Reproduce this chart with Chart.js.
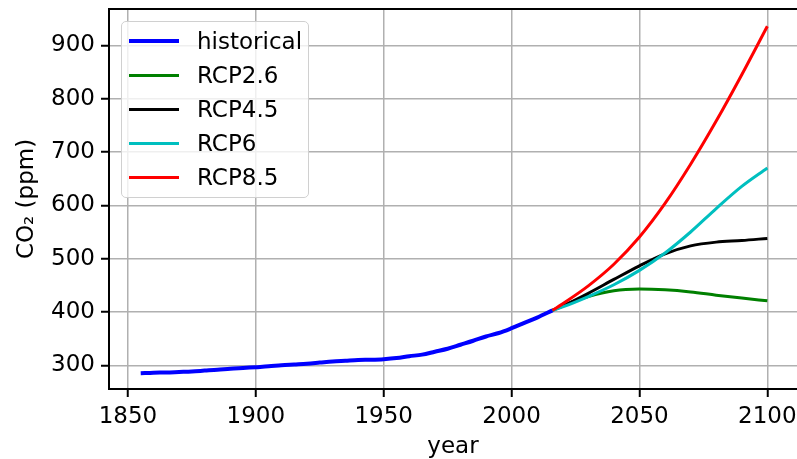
<!DOCTYPE html>
<html>
<head>
<meta charset="utf-8">
<script src="https://cdn.jsdelivr.net/npm/chart.js@4.4.1/dist/chart.umd.min.js"></script>
<style>
  body { margin: 0; background: #fff; }
  #wrap { position: relative; width: 797px; height: 459px; }
  #legend {
    position: absolute; left: 121px; top: 21px; width: 186px; height: 175px;
    border: 1.5px solid #d0d0d0; border-radius: 5px; background: rgba(255,255,255,0.8);
    font-family: "DejaVu Sans", sans-serif; font-size: 23px; color: #000;
  }
  .row { position: absolute; left: 0; height: 34px; }
  .row span.ln { position: absolute; left: 7px; width: 50px; top: 0; }
  .row span.tx { position: absolute; left: 75px; top: 0; line-height: 34px; white-space: nowrap; }
</style>
</head>
<body>
<div id="wrap">
  <canvas id="co2" width="797" height="459"></canvas>
  <div id="legend"></div>
</div>
<script>
//data
var histYears = [1855,1860,1865,1870,1875,1880,1885,1890,1895,1900,1905,1910,1915,1920,1925,1930,1935,1940,1945,1950,1955,1960,1965,1970,1975,1980,1985,1990,1995,2000,2005,2010,2016];
var histCO2 = [285,286,286.5,287.5,288.5,290,291.5,293.5,295,296.5,298,300,301.5,303,305,307,308.5,310,310.5,311.5,313.5,317,320,325.5,331,338.5,346,354,360.5,369.5,379.5,389.5,403];

var rcpYears = [2016,2020,2030,2040,2050,2060,2070,2080,2090,2100];
var rcp26 = [403,412,429,440,443,441.5,437.5,431.5,426,421];
var rcp45 = [403,411,435,461,486.5,509,524,531,534,538];
var rcp60 = [403,409.5,429,451,478,510.5,550,594,635.5,670];
var rcp85 = [403,415.5,449,489.5,540.5,603.5,677,758,845,936];

var xTicks = [1850,1900,1950,2000,2050,2100];
var yTicks = [300,400,500,600,700,800,900];

function pts(xs, ys){
    return xs.map(function(x, i){ return {x: x, y: ys[i]}; });
}

var series = [
    {label: 'historical', xs: histYears, ys: histCO2, color: '#0000ff', width: 4},
    {label: 'RCP2.6', xs: rcpYears, ys: rcp26, color: '#008000', width: 3},
    {label: 'RCP4.5', xs: rcpYears, ys: rcp45, color: '#000000', width: 3},
    {label: 'RCP6', xs: rcpYears, ys: rcp60, color: '#00bfbf', width: 3},
    {label: 'RCP8.5', xs: rcpYears, ys: rcp85, color: '#ff0000', width: 3}
];

var font = {family: 'DejaVu Sans', size: 23};

//top spine
var frame = {
    id: 'frame',
    afterDraw: function(chart){
        var a = chart.chartArea, c = chart.ctx;
        c.save();
        c.strokeStyle = '#000';
        c.lineWidth = 2;
        c.beginPath();
        c.moveTo(a.left - 1, a.top);
        c.lineTo(a.right, a.top);
        c.stroke();
        c.restore();
    }
};

function noPad(scale){
    scale.paddingTop = 0;
    scale.paddingBottom = 0;
    scale.paddingLeft = 0;
    scale.paddingRight = 0;
}

var myChart = new Chart(document.getElementById('co2').getContext('2d'), {
    type: 'line',
    data: {
        datasets: series.map(function(s){
            return {
                label: s.label,
                data: pts(s.xs, s.ys),
                borderColor: s.color,
                borderWidth: s.width,
                pointRadius: 0,
                fill: false,
                cubicInterpolationMode: 'monotone'
            };
        }).reverse()
    },
    options: {
        responsive: false,
        animation: false,
        layout: {padding: {top: 9, right: 0, left: 0, bottom: 0}},
        plugins: {legend: {display: false}, tooltip: {enabled: false}},
        scales: {
            x: {
                type: 'linear',
                min: 1842.6,
                max: 2111.6,
                afterBuildTicks: function(scale){ scale.ticks = xTicks.map(function(v){ return {value: v}; }); },
                afterFit: function(scale){ scale.height = 70; noPad(scale); },
                ticks: {font: font, color: '#000', padding: 6, maxRotation: 0,
                        callback: function(v){ return String(v); }},
                grid: {color: '#b0b0b0', lineWidth: 1.5, tickColor: '#000', tickLength: 8, tickWidth: 2},
                border: {color: '#000', width: 2},
                title: {display: true, text: 'year', font: {family: 'DejaVu Sans', size: 23, lineHeight: 1}, color: '#000', padding: {top: -4, bottom: 0}}
            },
            y: {
                min: 255.5,
                max: 968.3,
                afterBuildTicks: function(scale){ scale.ticks = yTicks.map(function(v){ return {value: v}; }); },
                afterFit: function(scale){ scale.width = 109; noPad(scale); },
                ticks: {font: font, color: '#000', padding: 6,
                        callback: function(v){ return String(v); }},
                grid: {color: '#b0b0b0', lineWidth: 1.5, tickColor: '#000', tickLength: 8, tickWidth: 2},
                border: {color: '#000', width: 2},
                title: {display: true, text: 'CO₂ (ppm)', font: font, color: '#000', padding: {top: 13, bottom: 0}}
            }
        }
    },
    plugins: [frame]
});

//legend
var leg = document.getElementById('legend');
series.forEach(function(s, i){
    var row = document.createElement('div');
    row.className = 'row';
    row.style.top = (2 + i * 34) + 'px';
    row.style.width = '100%';
    var ln = document.createElement('span');
    ln.className = 'ln';
    ln.style.height = s.width + 'px';
    ln.style.top = (17 - s.width / 2) + 'px';
    ln.style.background = s.color;
    var tx = document.createElement('span');
    tx.className = 'tx';
    tx.textContent = s.label;
    row.appendChild(ln);
    row.appendChild(tx);
    leg.appendChild(row);
});
</script>
</body>
</html>
